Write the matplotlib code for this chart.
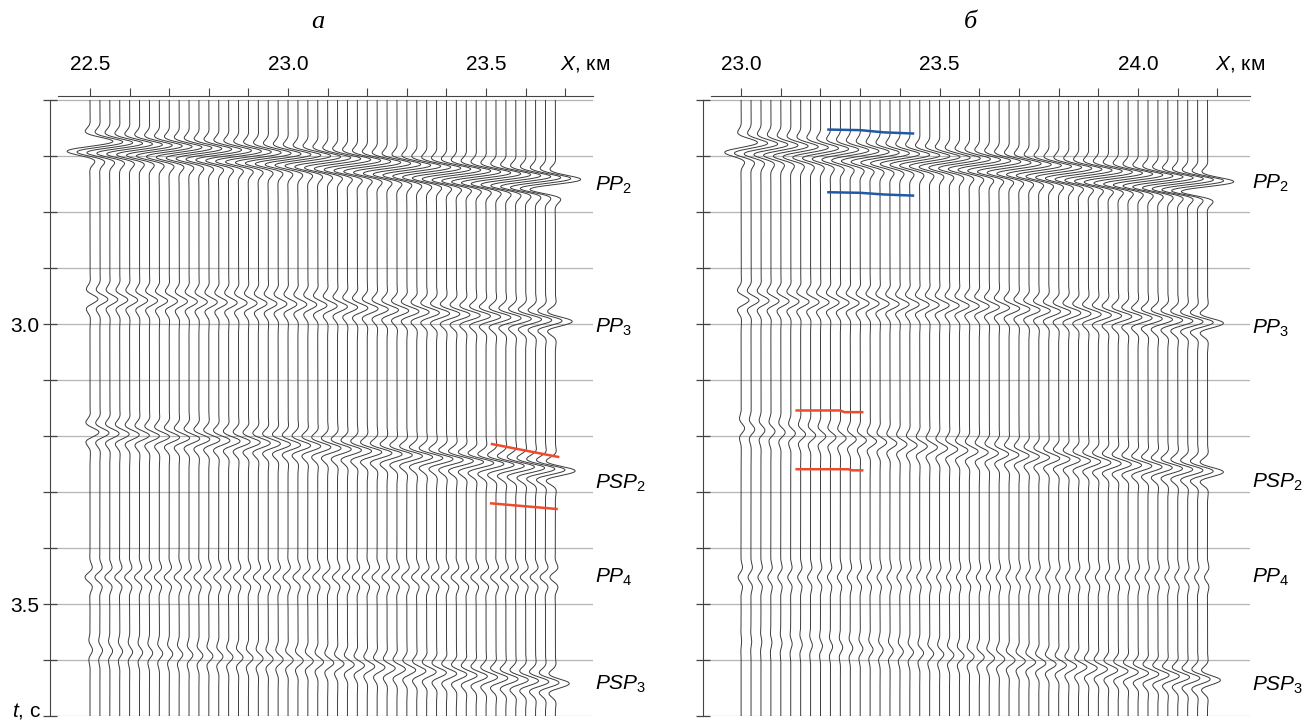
import numpy as np
import matplotlib.pyplot as plt

plt.rcParams['font.family'] = ['Liberation Sans', 'DejaVu Sans']
plt.rcParams['mathtext.fontset'] = 'custom'
plt.rcParams['mathtext.it'] = 'Liberation Sans:italic'
plt.rcParams['mathtext.rm'] = 'Liberation Sans'

# --- data -------------------------------------------------------------
n_traces = 48
trace_step = 0.025          # km between traces
a_first = 22.5
b_first = 23.0

# control offsets (first / middle / last trace) where times and amplitudes were read
a_ctrl_x = [22.5, 23.05, 23.675]
b_ctrl_x = [23.0, 23.6, 24.175]

event_names = ['$PP_2$', '$PP_3$', '$PSP_2$', '$PP_4$', '$PSP_3$']
event_phase = [np.pi / 2, 0.0, 0.0, np.pi, 0.0]

# panel a: arrival times, s
a_pp2_t = [2.682, 2.708, 2.750]
a_pp3_t = [2.955, 2.965, 2.995]
a_psp2_t = [3.193, 3.218, 3.262]
a_pp4_t = [3.452, 3.452, 3.452]
a_psp3_t = [3.582, 3.602, 3.642]
# panel a: amplitudes, in trace spacings
a_pp2_amp = [2.8, 2.8, 3.1]
a_pp3_amp = [0.8, 0.9, 1.7]
a_psp2_amp = [0.9, 1.3, 2.0]
a_pp4_amp = [0.5, 0.5, 0.55]
a_psp3_amp = [0.25, 0.55, 1.4]

# panel b
b_pp2_t = [2.684, 2.715, 2.754]
b_pp3_t = [2.957, 2.968, 2.998]
b_psp2_t = [3.186, 3.229, 3.264]
b_pp4_t = [3.452, 3.452, 3.452]
b_psp3_t = [3.565, 3.595, 3.636]
b_pp2_amp = [2.0, 2.6, 3.2]
b_pp3_amp = [0.8, 1.0, 1.6]
b_psp2_amp = [0.35, 0.9, 1.6]
b_pp4_amp = [0.3, 0.3, 0.3]
b_psp3_amp = [0.05, 0.5, 1.3]

# label times at the right edge
a_label_t = [2.752, 3.005, 3.284, 3.452, 3.643]
b_label_t = [2.748, 3.007, 3.282, 3.452, 3.645]

# picked horizons (x km, t s)
a_red_top_x = [23.515, 23.682]
a_red_top_t = [3.214, 3.237]
a_red_bot_x = [23.513, 23.678]
a_red_bot_t = [3.320, 3.330]

b_blue_top_x = [23.22, 23.30, 23.36, 23.433]
b_blue_top_t = [2.652, 2.653, 2.657, 2.659]
b_blue_bot_x = [23.22, 23.30, 23.36, 23.433]
b_blue_bot_t = [2.764, 2.765, 2.768, 2.770]
b_red_top_x = [23.14, 23.25, 23.26, 23.305]
b_red_top_t = [3.154, 3.154, 3.157, 3.157]
b_red_bot_x = [23.14, 23.27, 23.28, 23.305]
b_red_bot_t = [3.259, 3.259, 3.261, 3.261]

t_grid = np.linspace(2.6, 3.7, 2201)
period = 0.042
sigma = 0.022

W, H = 1305, 721


def wavelet(tau, phase):
    return np.exp(-(tau / sigma) ** 2) * np.cos(2 * np.pi * tau / period + phase)


def draw_panel(ax, first, ctrl_x, times, amps, xlim, ticks, labels, label_t):
    ax.set_xlim(*xlim)
    ax.set_ylim(3.7, 2.592)
    for tt in np.arange(2.6, 3.71, 0.1):
        ax.axhline(tt, color='#b4b4b4', lw=0.9, zorder=1)

    xs = first + trace_step * np.arange(n_traces)
    for x in xs:
        s = np.zeros_like(t_grid)
        for k in range(len(times)):
            t0 = np.interp(x, ctrl_x, times[k])
            amp = np.interp(x, ctrl_x, amps[k])
            s += amp * wavelet(t_grid - t0, event_phase[k])
        ax.plot(x + s * trace_step, t_grid, color='#3a3a3a', lw=0.7, zorder=2)

    ax.xaxis.tick_top()
    ax.set_xticks(ticks)
    ax.set_xticklabels(labels)
    ax.tick_params(axis='x', direction='out', length=6, width=0.8, color='#444',
                   labelsize=15, pad=10)
    ax.set_yticks(np.arange(2.6, 3.71, 0.1))
    ax.tick_params(axis='y', direction='inout', length=10, width=0.9, color='#444',
                   labelsize=15, pad=3)
    for side in ['right', 'bottom']:
        ax.spines[side].set_visible(False)
    ax.spines['top'].set_color('#444')
    ax.spines['left'].set_color('#444')
    ax.spines['top'].set_bounds(xlim[0] + 0.02, xlim[1])
    ax.spines['left'].set_bounds(2.6, 3.7)

    for name, tt in zip(event_names, label_t):
        ax.text(xlim[1] + 0.005, tt, name, fontsize=15, ha='left', va='center', clip_on=False)


fig = plt.figure(figsize=(13.05, 7.21), dpi=100)
ax_a = fig.add_axes([50 / W, 5 / H, 543 / W, 620 / H])
ax_b = fig.add_axes([703 / W, 5 / H, 547 / W, 620 / H])

a_ticks = np.round(np.arange(22.5, 23.71, 0.1), 2)
a_lbls = [f'{v:.1f}' if abs(v * 2 - round(v * 2)) < 1e-6 else '' for v in a_ticks]
draw_panel(ax_a, a_first, a_ctrl_x,
           [a_pp2_t, a_pp3_t, a_psp2_t, a_pp4_t, a_psp3_t],
           [a_pp2_amp, a_pp3_amp, a_psp2_amp, a_pp4_amp, a_psp3_amp],
           (22.399, 23.770), a_ticks, a_lbls, a_label_t)
ax_a.set_yticklabels([f'{v:.1f}' if abs(v - 3.0) < 1e-6 or abs(v - 3.5) < 1e-6 else ''
                      for v in np.arange(2.6, 3.71, 0.1)])

b_ticks = np.round(np.arange(23.0, 24.21, 0.1), 2)
b_lbls = [f'{v:.1f}' if abs(v * 2 - round(v * 2)) < 1e-6 else '' for v in b_ticks]
draw_panel(ax_b, b_first, b_ctrl_x,
           [b_pp2_t, b_pp3_t, b_psp2_t, b_pp4_t, b_psp3_t],
           [b_pp2_amp, b_pp3_amp, b_psp2_amp, b_pp4_amp, b_psp3_amp],
           (22.904, 24.282), b_ticks, b_lbls, b_label_t)
ax_b.set_yticklabels([])

# axis names and panel letters
fig.text(585 / W, 1 - 64 / H, '$X$, км', fontsize=15, ha='center', va='center')
fig.text(1240 / W, 1 - 64 / H, '$X$, км', fontsize=15, ha='center', va='center')
fig.text(41 / W, 1 - 711 / H, '$t$, с', fontsize=15, ha='right', va='center')
fig.text(318 / W, 1 - 22 / H, 'а', fontsize=19, style='italic', family='Liberation Serif',
         ha='center', va='center')
fig.text(970 / W, 1 - 22 / H, 'б', fontsize=19, style='italic', family='Liberation Serif',
         ha='center', va='center')

red = '#f04a2a'
blue = '#1f5aa6'
ax_a.plot(a_red_top_x, a_red_top_t, color=red, lw=1.8, zorder=3)
ax_a.plot(a_red_bot_x, a_red_bot_t, color=red, lw=1.8, zorder=3)
ax_b.plot(b_blue_top_x, b_blue_top_t, color=blue, lw=1.8, zorder=3)
ax_b.plot(b_blue_bot_x, b_blue_bot_t, color=blue, lw=1.8, zorder=3)
ax_b.plot(b_red_top_x, b_red_top_t, color=red, lw=1.8, zorder=3)
ax_b.plot(b_red_bot_x, b_red_bot_t, color=red, lw=1.8, zorder=3)

fig.savefig('out.png', dpi=100)
